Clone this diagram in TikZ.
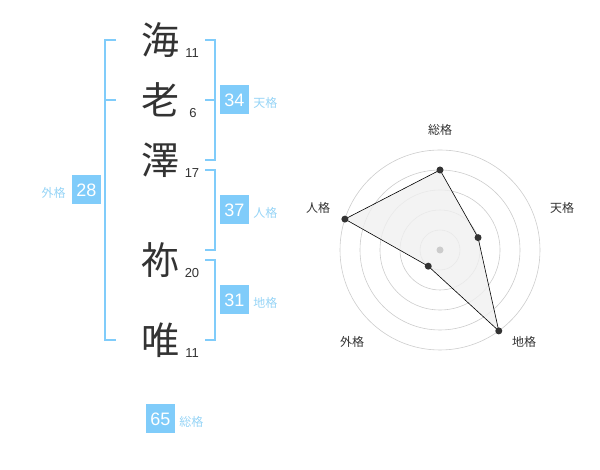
\documentclass[tikz,border=0pt]{standalone}
\usepackage{fontspec}
\setmainfont{Liberation Sans}
\newfontfamily\jpfont{Noto Sans CJK JP}
\usetikzlibrary{positioning}
\definecolor{kakublue}{RGB}{128,204,250}
\definecolor{kakutext}{RGB}{150,212,246}
\definecolor{inkgray}{RGB}{51,51,51}
\begin{document}
\begin{tikzpicture}[x=1pt, y=1pt,
	kanji/.style={font=\jpfont\fontsize{38}{40}\selectfont, text=inkgray, inner sep=0},
	strokes/.style={font=\fontsize{13}{13}\selectfont, text=inkgray, inner sep=0},
	kakubox/.style={fill=kakublue, text=white, minimum size=29pt, inner sep=0, font=\fontsize{18}{18}\selectfont},
	kakuname/.style={font=\jpfont\fontsize{12}{12}\selectfont, text=kakutext, inner sep=0},
	bracket/.style={draw=kakublue, line width=2pt},
	ring/.style={draw=black!20, line width=0.6pt},
	axisname/.style={font=\jpfont\fontsize{12}{12}\selectfont, text=inkgray, inner sep=0},
	dot/.style={circle, fill=inkgray, inner sep=0, minimum size=7pt}]
			\useasboundingbox (0,0) rectangle (600,470);
			% name characters and stroke counts
			\node (c1) [kanji] at (160,430) {海};
			\node (c2) [kanji] at (160,370) {老};
			\node (c3) [kanji] at (160,310) {澤};
			\node (c4) [kanji] at (160,210) {祢};
			\node (c5) [kanji] at (160,130) {唯};
			\node (s1) [strokes] at (192,417) {11};
			\node (s2) [strokes] at (193,357) {6};
			\node (s3) [strokes] at (192,297) {17};
			\node (s4) [strokes] at (192,197) {20};
			\node (s5) [strokes] at (192,117) {11};
			% brackets
			\draw [bracket] (116,430) -- (105,430) -- (105,130) -- (116,130);
			\draw [bracket] (105,370) -- (116,370);
			\draw [bracket] (205,430) -- (215,430) -- (215,310) -- (205,310);
			\draw [bracket] (205,370) -- (215,370);
			\draw [bracket] (205,300) -- (215,300) -- (215,220) -- (205,220);
			\draw [bracket] (205,210) -- (215,210) -- (215,130) -- (205,130);
			% kaku values
			\node (ten) [kakubox] at (234.5,370) {34};
			\node (jin) [kakubox] at (234.5,260) {37};
			\node (chi) [kakubox] at (234.5,170) {31};
			\node (gai) [kakubox] at (86.5,280) {28};
			\node (sou) [kakubox] at (160.5,51) {65};
			\node (tenname) [kakuname, right=4pt of ten, yshift=-3pt] {天格};
			\node (jinname) [kakuname, right=4pt of jin, yshift=-3pt] {人格};
			\node (chiname) [kakuname, right=4pt of chi, yshift=-3pt] {地格};
			\node (gainame) [kakuname, left=6pt of gai, yshift=-3pt] {外格};
			\node (souname) [kakuname, right=4pt of sou, yshift=-3pt] {総格};
			% radar chart
			\begin{scope}[shift={(440,220)}]
				\foreach \r in {20,40,60,80,100}
					\draw [ring] (0,0) circle [radius=\r pt];
				\coordinate (psou) at (90:80);
				\coordinate (pten) at (18:40);
				\coordinate (pchi) at (-54:100);
				\coordinate (pgai) at (-126:20);
				\coordinate (pjin) at (162:100);
				\draw [fill=black!6, fill opacity=0.8, line width=0.6pt] (psou) -- (pten) -- (pchi) -- (pgai) -- (pjin) -- cycle;
				\node (mid) [circle, fill=black!20, inner sep=0, minimum size=7pt] at (0,0) {};
				\foreach \p in {psou,pten,pchi,pgai,pjin}
					\node [dot] at (\p) {};
			\end{scope}
			\node (asou) [axisname] at (440,340) {総格};
			\node (aten) [axisname] at (562,262) {天格};
			\node (achi) [axisname] at (524,128) {地格};
			\node (agai) [axisname] at (352,128) {外格};
			\node (ajin) [axisname] at (318,262) {人格};
		\end{tikzpicture}
\end{document}
